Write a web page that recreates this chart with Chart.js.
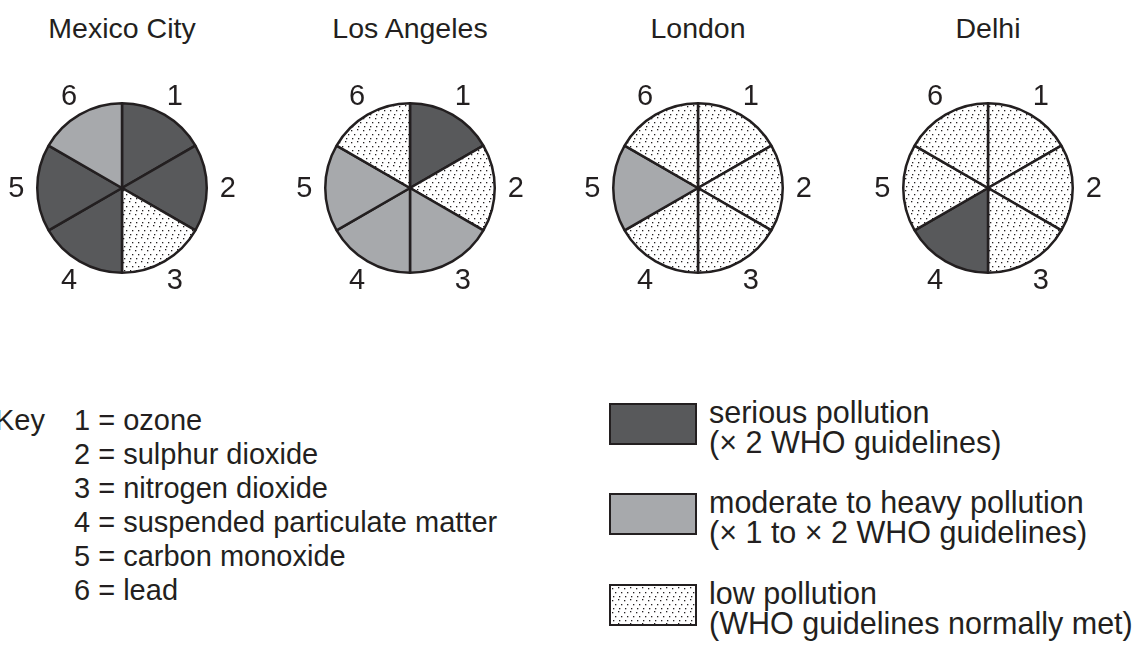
<!DOCTYPE html>
<html lang="en">
<head>
  <meta charset="UTF-8">
  <title>Air pollution in four cities</title>
  <script src="https://cdn.jsdelivr.net/npm/chart.js"></script>
  <style>
    body { margin: 0; width: 1142px; height: 646px; position: relative; overflow: hidden;
           background: #fff; color: #231f20; font-family: Arial, "Liberation Sans", sans-serif; }
    .city { position: absolute; top: 11px; width: 240px; text-align: center; font-size: 28.5px; line-height: 34px; }
    .pie { position: absolute; top: 68px; width: 240px; height: 240px; }
    #keyWord { position: absolute; left: -5px; top: 403px; font-size: 29px; line-height: 34px; }
    #keyList { position: absolute; left: 74px; top: 403px; font-size: 29px; line-height: 34px; white-space: nowrap; }
    .swatch { position: absolute; left: 609px; width: 84px; height: 38px; border: 2px solid #231f20; }
    .levelText { position: absolute; left: 709px; font-size: 30.5px; line-height: 30px; white-space: nowrap; }
  </style>
</head>
<body>
  <!-- titles, pies and key are filled in by the script -->
  <div id="charts"></div>
  <div id="keyWord">Key</div>
  <div id="keyList"></div>
  <div id="levels"></div>

  <script>
    // ---- data ----
    const cityNames = ['Mexico City', 'Los Angeles', 'London', 'Delhi'];
    const pollutantNumbers = ['1', '2', '3', '4', '5', '6'];
    const pollutantNames = ['ozone', 'sulphur dioxide', 'nitrogen dioxide',
      'suspended particulate matter', 'carbon monoxide', 'lead'];
    const sliceShare = [1, 1, 1, 1, 1, 1];

    const mexicoCityLevels = ['serious', 'serious', 'low', 'serious', 'serious', 'moderate'];
    const losAngelesLevels = ['serious', 'low', 'moderate', 'moderate', 'moderate', 'low'];
    const londonLevels = ['low', 'low', 'low', 'low', 'moderate', 'low'];
    const delhiLevels = ['low', 'low', 'low', 'serious', 'low', 'low'];

    const levelKeys = ['serious', 'moderate', 'low'];
    const levelLabels = [
      ['serious pollution', '(\u00d7 2 WHO guidelines)'],
      ['moderate to heavy pollution', '(\u00d7 1 to \u00d7 2 WHO guidelines)'],
      ['low pollution', '(WHO guidelines normally met)']
    ];

    // ---- styles ----
    const ink = '#231f20';
    const pieCentersX = [122, 410, 698, 988];
    const swatchTops = [403, 493, 584];
    const textTops = [397, 487, 578];

    // dotted fill used for "low pollution"
    const tile = document.createElement('canvas');
    tile.width = 12; tile.height = 12;
    const tctx = tile.getContext('2d');
    tctx.fillStyle = '#fff';
    tctx.fillRect(0, 0, 12, 12);
    tctx.fillStyle = ink;
    [[1, 2], [7, 1], [4, 6], [10, 6], [2, 10], [8, 10]].forEach(([x, y]) => tctx.fillRect(x, y, 1.3, 1.3));
    const dotPattern = tctx.createPattern(tile, 'repeat');

    const levelFill = { serious: '#58595b', moderate: '#a7a9ac', low: dotPattern };

    // numbers 1..6 placed outside each slice
    const sliceNumbers = {
      id: 'sliceNumbers',
      afterDraw(chart) {
        const ctx = chart.ctx;
        const meta = chart.getDatasetMeta(0);
        ctx.save();
        ctx.font = '29px Arial, "Liberation Sans", sans-serif';
        ctx.fillStyle = ink;
        ctx.textAlign = 'center';
        ctx.textBaseline = 'middle';
        meta.data.forEach((arc, i) => {
          const p = arc.getProps(['x', 'y', 'startAngle', 'endAngle', 'outerRadius'], true);
          const mid = (p.startAngle + p.endAngle) / 2;
          const r = p.outerRadius + 21;
          ctx.fillText(chart.data.labels[i], p.x + Math.cos(mid) * r, p.y + Math.sin(mid) * r + 1);
        });
        ctx.restore();
      }
    };

    const cityLevels = [mexicoCityLevels, losAngelesLevels, londonLevels, delhiLevels];
    const charts = document.getElementById('charts');

    cityNames.forEach((name, c) => {
      const title = document.createElement('div');
      title.className = 'city';
      title.style.left = (pieCentersX[c] - 120) + 'px';
      title.textContent = name;
      charts.appendChild(title);

      const canvas = document.createElement('canvas');
      canvas.className = 'pie';
      canvas.width = 240; canvas.height = 240;
      canvas.style.left = (pieCentersX[c] - 120) + 'px';
      charts.appendChild(canvas);

      new Chart(canvas.getContext('2d'), {
        type: 'pie',
        data: {
          labels: pollutantNumbers,
          datasets: [{
            data: sliceShare,
            backgroundColor: cityLevels[c].map(l => levelFill[l]),
            borderColor: ink,
            borderWidth: 2.5
          }]
        },
        options: {
          responsive: false,
          animation: false,
          events: [],
          layout: { padding: 34 },
          plugins: { legend: { display: false }, tooltip: { enabled: false } }
        },
        plugins: [sliceNumbers]
      });
    });

    // key of pollutants
    document.getElementById('keyList').innerHTML =
      pollutantNumbers.map((n, i) => `<div>${n} = ${pollutantNames[i]}</div>`).join('');

    // pollution level swatches
    const levels = document.getElementById('levels');
    levelKeys.forEach((key, i) => {
      const box = document.createElement('div');
      box.className = 'swatch';
      box.style.top = swatchTops[i] + 'px';
      if (key === 'low') {
        box.style.backgroundImage = `url(${tile.toDataURL()})`;
      } else {
        box.style.background = levelFill[key];
      }
      levels.appendChild(box);

      const text = document.createElement('div');
      text.className = 'levelText';
      text.style.top = textTops[i] + 'px';
      text.innerHTML = levelLabels[i].join('<br>');
      levels.appendChild(text);
    });
  </script>
</body>
</html>
